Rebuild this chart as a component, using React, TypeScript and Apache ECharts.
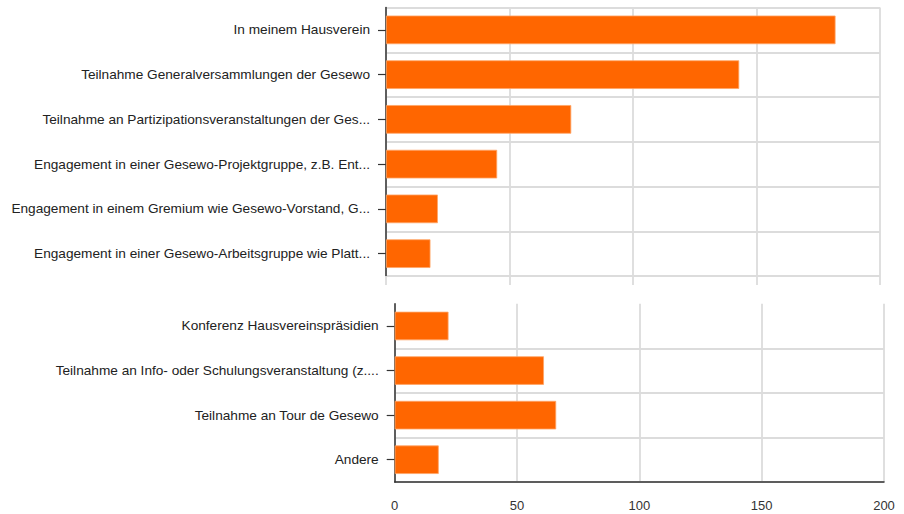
import React, { useEffect, useRef } from "react";
import * as echarts from "echarts";

const topCategories = [
  "In meinem Hausverein",
  "Teilnahme Generalversammlungen der Gesewo",
  "Teilnahme an Partizipationsveranstaltungen der Ges...",
  "Engagement in einer Gesewo-Projektgruppe, z.B. Ent...",
  "Engagement in einem Gremium wie Gesewo-Vorstand, G...",
  "Engagement in einer Gesewo-Arbeitsgruppe wie Platt...",
];
const topValues = [182, 143, 75, 45, 21, 18];

const bottomCategories = [
  "Konferenz Hausvereinspräsidien",
  "Teilnahme an Info- oder Schulungsveranstaltung (z....",
  "Teilnahme an Tour de Gesewo",
  "Andere",
];
const bottomValues = [22, 61, 66, 18];

const xTicks = [0, 50, 100, 150, 200];

const FONT = "'Liberation Sans', Arial, Helvetica, sans-serif";
const BAR = "#FF6600";
const GRID = "#dcdcdc";

export default function App() {
  const ref = useRef<HTMLDivElement>(null);
  useEffect(() => {
    if (!ref.current) return;
    const chart = echarts.init(ref.current, undefined, { renderer: "svg" });
    const xMin = xTicks[0];
    const xMax = xTicks[xTicks.length - 1];
    const xInterval = xTicks[1] - xTicks[0];
    const labelStyle = { color: "#222", fontSize: 13.65, margin: 16, fontFamily: FONT };
    chart.setOption({
      animation: false,
      textStyle: { fontFamily: FONT },
      grid: [
        { left: 386, right: 24, top: 7.5, height: 268.5, containLabel: false },
        { left: 394.7, right: 20, top: 303.7, height: 178.3, containLabel: false },
      ],
      xAxis: [
        {
          gridIndex: 0,
          type: "value",
          min: xMin,
          max: xMax,
          interval: xInterval,
          axisLine: { show: false },
          axisTick: { show: true, length: 9, inside: false, lineStyle: { color: GRID, width: 1.8 } },
          axisLabel: { show: false },
          splitLine: { show: true, lineStyle: { color: GRID, width: 1.8 } },
        },
        {
          gridIndex: 1,
          type: "value",
          min: xMin,
          max: xMax,
          interval: xInterval,
          axisLine: { show: true, lineStyle: { color: "#333", width: 1.5 } },
          axisTick: { show: false },
          axisLabel: { show: true, color: "#333", fontSize: 13, margin: 17, fontFamily: FONT },
          splitLine: { show: true, lineStyle: { color: GRID, width: 1.8 } },
        },
      ],
      yAxis: [
        {
          gridIndex: 0,
          type: "category",
          inverse: true,
          data: topCategories,
          axisLine: { show: true, lineStyle: { color: "#333", width: 1.5 } },
          axisTick: { show: true, alignWithLabel: true, length: 8, lineStyle: { color: "#333", width: 1.2 } },
          axisLabel: labelStyle,
          splitLine: { show: true, lineStyle: { color: GRID, width: 1.8 } },
        },
        {
          gridIndex: 1,
          type: "category",
          inverse: true,
          data: bottomCategories,
          axisLine: { show: true, lineStyle: { color: "#333", width: 1.5 } },
          axisTick: { show: true, alignWithLabel: true, length: 8, lineStyle: { color: "#333", width: 1.2 } },
          axisLabel: labelStyle,
          splitLine: {
            show: true,
            interval: (index: number) => index !== 0,
            lineStyle: { color: GRID, width: 1.8 },
          },
        },
      ],
      series: [
        {
          type: "bar",
          xAxisIndex: 0,
          yAxisIndex: 0,
          data: topValues,
          barCategoryGap: "36%",
          itemStyle: { color: BAR, borderColor: "#ffa566", borderWidth: 0.8 },
        },
        {
          type: "bar",
          xAxisIndex: 1,
          yAxisIndex: 1,
          data: bottomValues,
          barCategoryGap: "36%",
          itemStyle: { color: BAR, borderColor: "#ffa566", borderWidth: 0.8 },
        },
      ],
    });
    return () => chart.dispose();
  }, []);
  return (
    <div
      ref={ref}
      style={{ position: "fixed", left: 0, top: 0, width: 904, height: 514, background: "#fff" }}
    />
  );
}
